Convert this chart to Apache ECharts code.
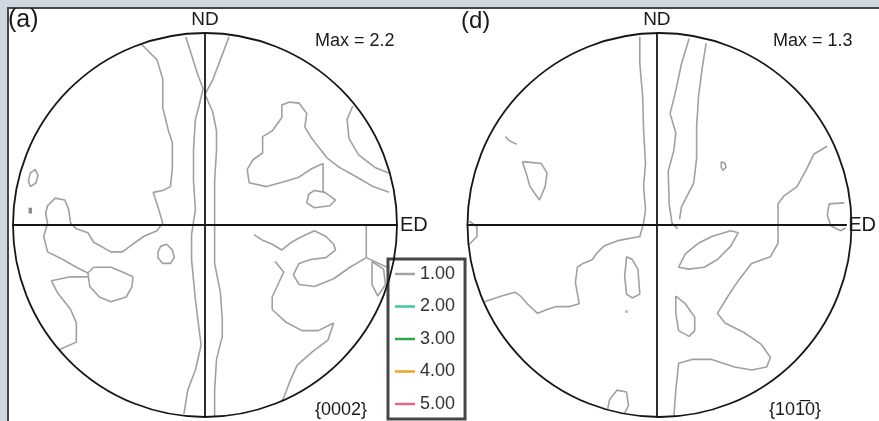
<!DOCTYPE html>
<html>
<head>
<meta charset="utf-8">
<script src="https://cdn.jsdelivr.net/npm/echarts@6/dist/echarts.min.js"></script>
<style>
  html, body { margin: 0; padding: 0; }
  body { width: 879px; height: 421px; background: #cfd8e0; position: relative; overflow: hidden; }
  .panel { position: absolute; left: 7px; top: 7px; right: 0; bottom: 0;
           background: #fff; border-left: 2px solid #474747; border-top: 2px solid #474747; }
  #chart { position: absolute; left: 0; top: 0; width: 879px; height: 421px; }
</style>
</head>
<body>
<div class="panel"></div>
<div id="chart"></div>
<script>
// Pole figures in projection coordinates (unit circle), contour level 1.00.

// ---- (a) {0002} ----
const aWestBand = [[-0.33,0.94],[-0.25,0.86],[-0.22,0.76],[-0.22,0.61],[-0.19,0.49],[-0.17,0.43],[-0.17,0.30],[-0.18,0.20],[-0.22,0.18],[-0.27,0.17],[-0.25,0.11],[-0.22,0.01],[-0.25,-0.03],[-0.32,-0.06],[-0.39,-0.11],[-0.43,-0.14],[-0.49,-0.14],[-0.58,-0.09],[-0.61,-0.04],[-0.67,-0.02],[-0.70,0.01],[-0.71,0.08],[-0.73,0.13],[-0.78,0.14],[-0.82,0.10],[-0.83,0.06],[-0.82,0.01],[-0.84,-0.06],[-0.82,-0.14],[-0.74,-0.18],[-0.67,-0.22],[-0.61,-0.25]];
const aWestLobe = [[-0.61,-0.27],[-0.70,-0.27],[-0.80,-0.29],[-0.77,-0.35],[-0.70,-0.44],[-0.67,-0.51],[-0.67,-0.61],[-0.76,-0.65]];
const aWestRing = [[-0.61,-0.25],[-0.60,-0.32],[-0.55,-0.375],[-0.49,-0.40],[-0.41,-0.375],[-0.38,-0.32],[-0.375,-0.27],[-0.43,-0.245],[-0.49,-0.22],[-0.58,-0.22],[-0.61,-0.25]];
const aRimIsle = [[-0.91,0.27],[-0.885,0.29],[-0.87,0.26],[-0.88,0.22],[-0.91,0.20],[-0.92,0.23],[-0.91,0.27]];
const aRimSpeck = [[-0.91,0.09],[-0.91,0.06]];
const aInnerIsle = [[-0.245,-0.14],[-0.23,-0.11],[-0.20,-0.10],[-0.17,-0.13],[-0.16,-0.17],[-0.18,-0.20],[-0.22,-0.20],[-0.245,-0.17],[-0.245,-0.14]];
const aNdWest = [[-0.10,0.98],[-0.07,0.885],[-0.04,0.79],[-0.01,0.71],[-0.03,0.625],[-0.05,0.55],[-0.06,0.39],[-0.06,0.23],[-0.05,0.08],[-0.07,-0.05],[-0.07,-0.18],[-0.05,-0.39],[-0.03,-0.55],[-0.02,-0.625],[-0.05,-0.755],[-0.09,-0.86],[-0.11,-0.985]];
const aNdEast = [[0.125,0.98],[0.08,0.86],[0.04,0.755],[0.0,0.68],[0.04,0.59],[0.06,0.49],[0.06,0.39],[0.05,0.23],[0.05,0.08],[0.05,-0.06],[0.05,-0.20],[0.08,-0.35],[0.09,-0.49],[0.09,-0.58],[0.06,-0.70],[0.05,-0.86],[0.05,-0.995]];
const aCross = [[0.96,0.17],[0.875,0.20],[0.79,0.25],[0.70,0.30],[0.635,0.35],[0.58,0.42],[0.55,0.46],[0.52,0.51],[0.53,0.58],[0.49,0.635],[0.44,0.64],[0.40,0.625],[0.40,0.56],[0.35,0.49],[0.30,0.46],[0.30,0.375],[0.25,0.34],[0.22,0.29],[0.23,0.22],[0.32,0.20],[0.43,0.23],[0.49,0.25],[0.55,0.29],[0.615,0.32],[0.615,0.23],[0.615,0.17]];
const aCrossIslet = [[0.54,0.16],[0.57,0.18],[0.625,0.17],[0.68,0.13],[0.65,0.10],[0.57,0.09],[0.53,0.115],[0.54,0.16]];
const aRimLobe = [[0.77,0.62],[0.74,0.55],[0.75,0.45],[0.80,0.365],[0.885,0.30],[0.96,0.27]];
const aLowerArm = [[0.255,-0.05],[0.30,-0.08],[0.35,-0.10],[0.40,-0.13],[0.45,-0.09],[0.505,-0.06],[0.57,-0.03],[0.63,-0.06],[0.67,-0.10],[0.68,-0.13],[0.63,-0.17],[0.55,-0.18],[0.49,-0.20],[0.46,-0.26],[0.49,-0.31],[0.57,-0.32],[0.67,-0.28],[0.755,-0.22],[0.84,-0.17],[0.97,-0.23]];
const aArmStub = [[0.84,0.0],[0.84,-0.17]];
const aRimTriangle = [[0.87,-0.19],[0.93,-0.23],[0.94,-0.31],[0.90,-0.37],[0.87,-0.31],[0.87,-0.19]];
const aTongue = [[0.365,-0.19],[0.41,-0.245],[0.38,-0.31],[0.35,-0.375],[0.35,-0.44],[0.42,-0.505],[0.505,-0.55],[0.59,-0.55],[0.67,-0.51],[0.64,-0.60],[0.56,-0.66],[0.48,-0.73],[0.44,-0.82],[0.41,-0.90],[0.40,-0.915]];

// ---- (d) {10-10} ----
const dNdWest = [[-0.09,0.98],[-0.09,0.84],[-0.075,0.67],[-0.07,0.495],[-0.06,0.32],[-0.07,0.20],[-0.06,0.08],[-0.07,0.01],[-0.09,-0.06],[-0.20,-0.08],[-0.28,-0.11],[-0.32,-0.15],[-0.34,-0.18],[-0.39,-0.20],[-0.42,-0.22],[-0.43,-0.30],[-0.41,-0.41],[-0.46,-0.425],[-0.53,-0.425],[-0.58,-0.44],[-0.63,-0.46],[-0.685,-0.41],[-0.72,-0.37],[-0.75,-0.35],[-0.82,-0.37],[-0.91,-0.40]];
const dRimBump = [[-0.99,0.02],[-0.95,-0.01],[-0.95,-0.06],[-0.99,-0.10]];
const dSquiggle = [[-0.80,0.46],[-0.78,0.44],[-0.74,0.42]];
const dTriangle = [[-0.71,0.33],[-0.61,0.32],[-0.58,0.27],[-0.59,0.20],[-0.62,0.13],[-0.67,0.20],[-0.69,0.27],[-0.71,0.33]];
const dNdOval = [[-0.16,-0.165],[-0.13,-0.18],[-0.10,-0.23],[-0.09,-0.36],[-0.13,-0.38],[-0.16,-0.36],[-0.17,-0.27],[-0.16,-0.165]];
const dSpot = [[-0.16,-0.45]];
const dRimLoop = [[-0.26,-0.96],[-0.25,-0.91],[-0.21,-0.86],[-0.16,-0.87],[-0.15,-0.94],[-0.17,-0.98]];
const dNdEastA = [[0.17,0.97],[0.13,0.84],[0.10,0.70],[0.07,0.58],[0.10,0.48],[0.09,0.39],[0.06,0.28],[0.065,0.11],[0.08,0.01],[0.11,-0.02]];
const dNdEastB = [[0.26,0.946],[0.24,0.82],[0.22,0.67],[0.21,0.51],[0.21,0.35],[0.195,0.22],[0.13,0.095],[0.12,0.03]];
const dUpperSpeck = [[0.34,0.33],[0.36,0.32],[0.365,0.30],[0.35,0.285],[0.34,0.30],[0.34,0.33]];
const dEastBoundary = [[0.90,0.41],[0.83,0.37],[0.79,0.29],[0.74,0.20],[0.67,0.15],[0.64,0.11],[0.64,0.01],[0.64,-0.095],[0.60,-0.165],[0.50,-0.20],[0.43,-0.29],[0.376,-0.37],[0.32,-0.46],[0.36,-0.51],[0.46,-0.56],[0.55,-0.62],[0.60,-0.69],[0.58,-0.74],[0.50,-0.755],[0.41,-0.74],[0.29,-0.70],[0.185,-0.70],[0.115,-0.72],[0.10,-0.86],[0.09,-0.996]];
const dEastOval = [[0.39,-0.03],[0.43,-0.04],[0.39,-0.11],[0.32,-0.18],[0.25,-0.22],[0.17,-0.23],[0.115,-0.22],[0.15,-0.15],[0.22,-0.095],[0.29,-0.06],[0.39,-0.03]];
const dLowerOval = [[0.10,-0.37],[0.15,-0.41],[0.20,-0.48],[0.20,-0.55],[0.17,-0.58],[0.115,-0.55],[0.10,-0.46],[0.10,-0.37]];
const dEdLoop = [[0.99,0.115],[0.91,0.11],[0.90,0.05],[0.92,-0.005],[0.97,-0.03],[0.997,-0.016]];

// Legend levels and their colours
const levelNames = ['1.00', '2.00', '3.00', '4.00', '5.00'];
const levelColors = ['#a3a3a3', '#3fc9a0', '#2aa64c', '#f0a326', '#de6894'];

const contoursA = [aWestBand, aWestLobe, aWestRing, aRimIsle, aInnerIsle, aNdWest, aNdEast, aCross, aCrossIslet, aRimLobe, aLowerArm, aArmStub, aRimTriangle, aTongue];
const contoursD = [dNdWest, dRimBump, dSquiggle, dTriangle, dNdOval, dRimLoop, dNdEastA, dNdEastB, dUpperSpeck, dEastBoundary, dEastOval, dLowerOval, dEdLoop];

const chart = echarts.init(document.getElementById('chart'), null, { renderer: 'canvas' });

const SANS = '"Liberation Sans", Arial, sans-serif';
const contourColor = '#a0a0a0';

function axisPair(gridIndex, edGap) {
  const line = { show: true, onZero: true, lineStyle: { color: '#161616', width: 1.8 } };
  return {
    x: {
      type: 'value', gridIndex, min: -1, max: 1, z: 10,
      axisLine: line, axisTick: { show: false }, axisLabel: { show: false }, splitLine: { show: false },
      name: 'ED', nameLocation: 'end', nameGap: edGap,
      nameTextStyle: { fontFamily: SANS, fontSize: 20, color: '#1a1a1a' }
    },
    y: {
      type: 'value', gridIndex, min: -1, max: 1, z: 10,
      axisLine: line, axisTick: { show: false }, axisLabel: { show: false }, splitLine: { show: false },
      name: 'ND', nameLocation: 'end', nameGap: 4,
      nameTextStyle: { fontFamily: SANS, fontSize: 19, color: '#1a1a1a' }
    }
  };
}
const axA = axisPair(0, 3), axD = axisPair(1, 2);

function contourSeries(list, idx) {
  return list.map(pts => ({
    type: 'line', name: levelNames[0], xAxisIndex: idx, yAxisIndex: idx,
    data: pts, showSymbol: false, symbol: 'none', silent: true,
    color: levelColors[0],
    lineStyle: { color: contourColor, width: 1.6 }, z: 3
  }));
}

const series = [
  ...contourSeries(contoursA, 0),
  ...contourSeries(contoursD, 1),
  {
    type: 'line', name: levelNames[0], xAxisIndex: 0, yAxisIndex: 0, data: aRimSpeck,
    showSymbol: false, symbol: 'none', silent: true, color: levelColors[0],
    lineStyle: { color: '#8a8a8a', width: 3.5 }, z: 3
  },
  {
    type: 'scatter', name: levelNames[0], xAxisIndex: 1, yAxisIndex: 1, data: dSpot,
    symbolSize: 3, silent: true, itemStyle: { color: '#a8a8a8' }, z: 3
  },
  ...levelNames.slice(1).map((n, i) => ({
    type: 'line', name: n, data: [], xAxisIndex: 0, yAxisIndex: 0,
    color: levelColors[i + 1], lineStyle: { color: levelColors[i + 1] }
  }))
];

function ring(idx) {
  return {
    angle: { polarIndex: idx, type: 'value', min: 0, max: 360, z: 10,
      axisLine: { show: true, lineStyle: { color: '#161616', width: 1.8 } },
      axisTick: { show: false }, axisLabel: { show: false }, splitLine: { show: false } },
    radius: { polarIndex: idx, type: 'value', min: 0, max: 1, show: false,
      axisLine: { show: false }, axisTick: { show: false }, axisLabel: { show: false }, splitLine: { show: false } }
  };
}
const rA = ring(0), rD = ring(1);

const plain = (size) => ({ fontFamily: SANS, fontSize: size, fontWeight: 'normal', color: '#1a1a1a' });

const option = {
  animation: false,
  grid: [
    { left: 13, top: 33, width: 384, height: 384 },
    { left: 467.5, top: 33, width: 384, height: 384 }
  ],
  polar: [
    { center: [205, 225], radius: 192 },
    { center: [659.5, 225], radius: 192 }
  ],
  angleAxis: [rA.angle, rD.angle],
  radiusAxis: [rA.radius, rD.radius],
  xAxis: [axA.x, axD.x],
  yAxis: [axA.y, axD.y],
  title: [
    { text: '(a)', left: 8, top: 8, padding: 0, textStyle: plain(25) },
    { text: 'Max = 2.2', left: 315, top: 32, padding: 0, textStyle: plain(18) },
    { text: '{0002}', left: 315, top: 401, padding: 0, textStyle: plain(18) },
    { text: '(d)', left: 461, top: 9, padding: 0, textStyle: plain(24) },
    { text: 'Max = 1.3', left: 773, top: 32, padding: 0, textStyle: plain(18) },
    { text: '{101\u03050}', left: 769, top: 401, padding: 0, textStyle: plain(18) }
  ],
  legend: {
    data: levelNames, orient: 'vertical', left: 388, top: 259,
    selectedMode: false, icon: 'rect', itemWidth: 20, itemHeight: 2.5, itemGap: 12.5,
    padding: [5, 10, 5, 7],
    backgroundColor: '#ffffff', borderColor: '#464646', borderWidth: 3,
    textStyle: { fontFamily: SANS, fontSize: 18, lineHeight: 20, color: '#333' }
  },
  series
};
chart.setOption(option);
</script>
</body>
</html>
